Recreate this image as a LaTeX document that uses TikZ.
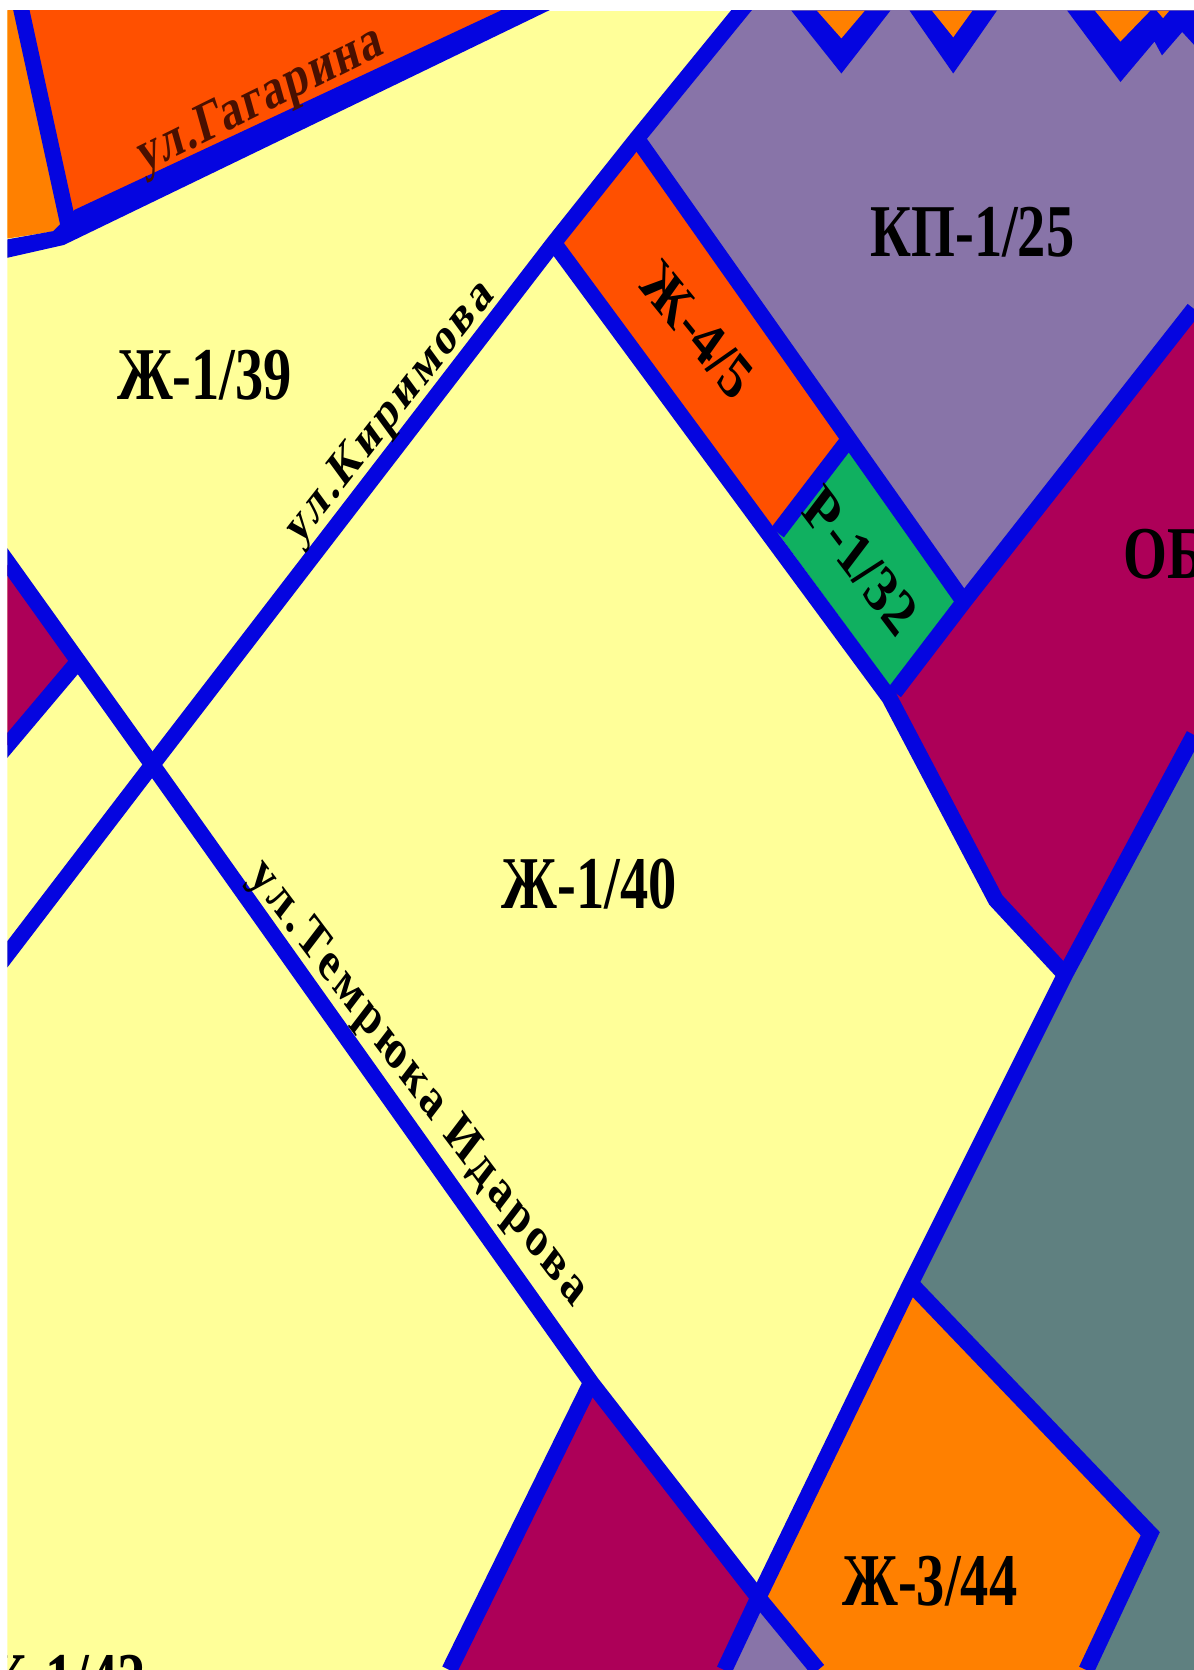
\documentclass[tikz,border=0pt]{standalone}
\usepackage{fontspec}
\usepackage{graphicx}
\setmainfont{Liberation Serif}
\definecolor{pyellow}{HTML}{FFFF99}
\definecolor{pblue}{HTML}{0505E0}
\definecolor{pred}{HTML}{FF5000}
\definecolor{porange}{HTML}{FF8000}
\definecolor{ppurple}{HTML}{8874A8}
\definecolor{pmag}{HTML}{AD0058}
\definecolor{pteal}{HTML}{5F8080}
\definecolor{pgreen}{HTML}{10B060}
\definecolor{pdark}{HTML}{4A1000}
\tikzset{road/.style={draw=pblue,line width=15pt,line join=miter,line cap=butt},
  maplabel/.style={inner sep=0pt,text=black}}
% name, x, y, angle, size, text
\newcommand{\maplbl}[7][black]{\node[maplabel,text=#1] (#2) at (#3,#4) {\scalebox{1}[1.32]{\rotatebox{#5}{\fontsize{#6}{#6}\selectfont\bfseries #7}}};}
\begin{document}
\begin{tikzpicture}[x=1pt,y=-1pt]
\useasboundingbox (0,0) rectangle (1121,1568);
\fill[white] (0,0) rectangle (1121,1568);
\begin{scope}
\clip (7,10) rectangle (1121,1568);
\fill[pyellow] (7,10) rectangle (1121,1568);
% top left
\fill[porange] (0,0) -- (20,0) -- (65,215) -- (0,225) -- cycle;
\fill[pred] (20,0) -- (520,0) -- (70,205) -- cycle;
% purple KP
\fill[ppurple] (600,128) -- (700,0) -- (1121,0) -- (1121,290) -- (905,565) -- (790,405) -- cycle;
% magenta
\fill[pmag] (1121,290) -- (905,565) -- (835,655) -- (935,845) -- (1000,915) -- (1121,700) -- cycle;
\fill[pmag] (0,520) -- (70,625) -- (0,708) -- cycle;
\fill[pmag] (555,1298) -- (712,1500) -- (680,1568) -- (422,1568) -- cycle;
% red and green blocks
\fill[pred] (598,130) -- (795,415) -- (730,500) -- (520,228) -- cycle;
\fill[pgreen] (795,415) -- (905,565) -- (840,650) -- (730,500) -- cycle;
% teal
\fill[pteal] (1121,690) -- (1000,915) -- (855,1205) -- (1080,1440) -- (1020,1568) -- (1121,1568) -- cycle;
% purple at the foot
\fill[ppurple] (712,1500) -- (780,1568) -- (682,1568) -- cycle;
% orange 3/44
\fill[porange] (855,1205) -- (1080,1440) -- (1020,1568) -- (768,1568) -- (712,1500) -- cycle;
% roads
\fill[pblue] (70,197) -- (470,10) -- (470,0) -- (535,0) -- (515,10) -- (60,230) -- (7,242) -- (0,243) -- (0,226) -- (50,217) -- cycle;
\draw[road] (18,0) -- (65,215);
\draw[road] (704,0) -- (598,130) -- (520,228) -- (143,718) -- (0,905);
\draw[road] (0,518) -- (143,718) -- (555,1298) -- (712,1500) -- (768,1568);
\draw[road] (0,708) -- (70,625);
\draw[road] (598,130) -- (905,565);
\draw[road] (520,228) -- (835,655) -- (935,845) -- (1000,915);
\draw[road] (795,415) -- (730,500);
\draw[road] (840,650) -- (905,565) -- (1121,290);
\draw[road] (1121,690) -- (1000,915) -- (855,1205) -- (712,1500) -- (680,1568);
\draw[road] (555,1298) -- (422,1568);
\draw[road] (855,1205) -- (1080,1440) -- (1020,1568);
% teeth at the top
\fill[pblue] (743,10) -- (790,69) -- (836,10) -- cycle;
\fill[porange] (767,10) -- (790,36) -- (812,10) -- cycle;
\fill[pblue] (854,10) -- (895,69) -- (936,10) -- cycle;
\fill[porange] (875,10) -- (895,35) -- (913,10) -- cycle;
\fill[pblue] (1002,10) -- (1052,77) -- (1084,39) -- (1091,52) -- (1110,30) -- (1121,42) -- (1121,10) -- cycle;
\fill[porange] (1028,10) -- (1080,10) -- (1052,39) -- cycle;
\fill[porange] (1086,10) -- (1098,10) -- (1092,17) -- cycle;
% labels
\maplbl{a}{192}{352}{0}{53}{Ж-1/39}
\maplbl{b}{553}{830}{0}{53}{Ж-1/40}
\maplbl{c}{913}{218}{0}{53}{КП-1/25}
\maplbl{d}{873}{1485}{0}{53}{Ж-3/44}
\maplbl{e}{1093}{520}{0}{53}{ОБ}
\maplbl{f}{55}{1578}{0}{53}{Ж-1/42}
\maplbl{g}{655}{310}{-43}{47}{Ж-4/5}
\maplbl{h}{808}{527}{-45}{47}{Р-1/32}
\maplbl[pdark]{i}{245}{95}{20.5}{41}{\addfontfeature{LetterSpace=4}ул.Гагарина}
\maplbl{j}{367}{388}{44}{38}{\addfontfeature{LetterSpace=8}ул.Киримова}
\maplbl{k}{392}{1018}{-45.2}{40}{\addfontfeature{LetterSpace=8}ул.Темрюка Идарова}
\end{scope}
\end{tikzpicture}
\end{document}
